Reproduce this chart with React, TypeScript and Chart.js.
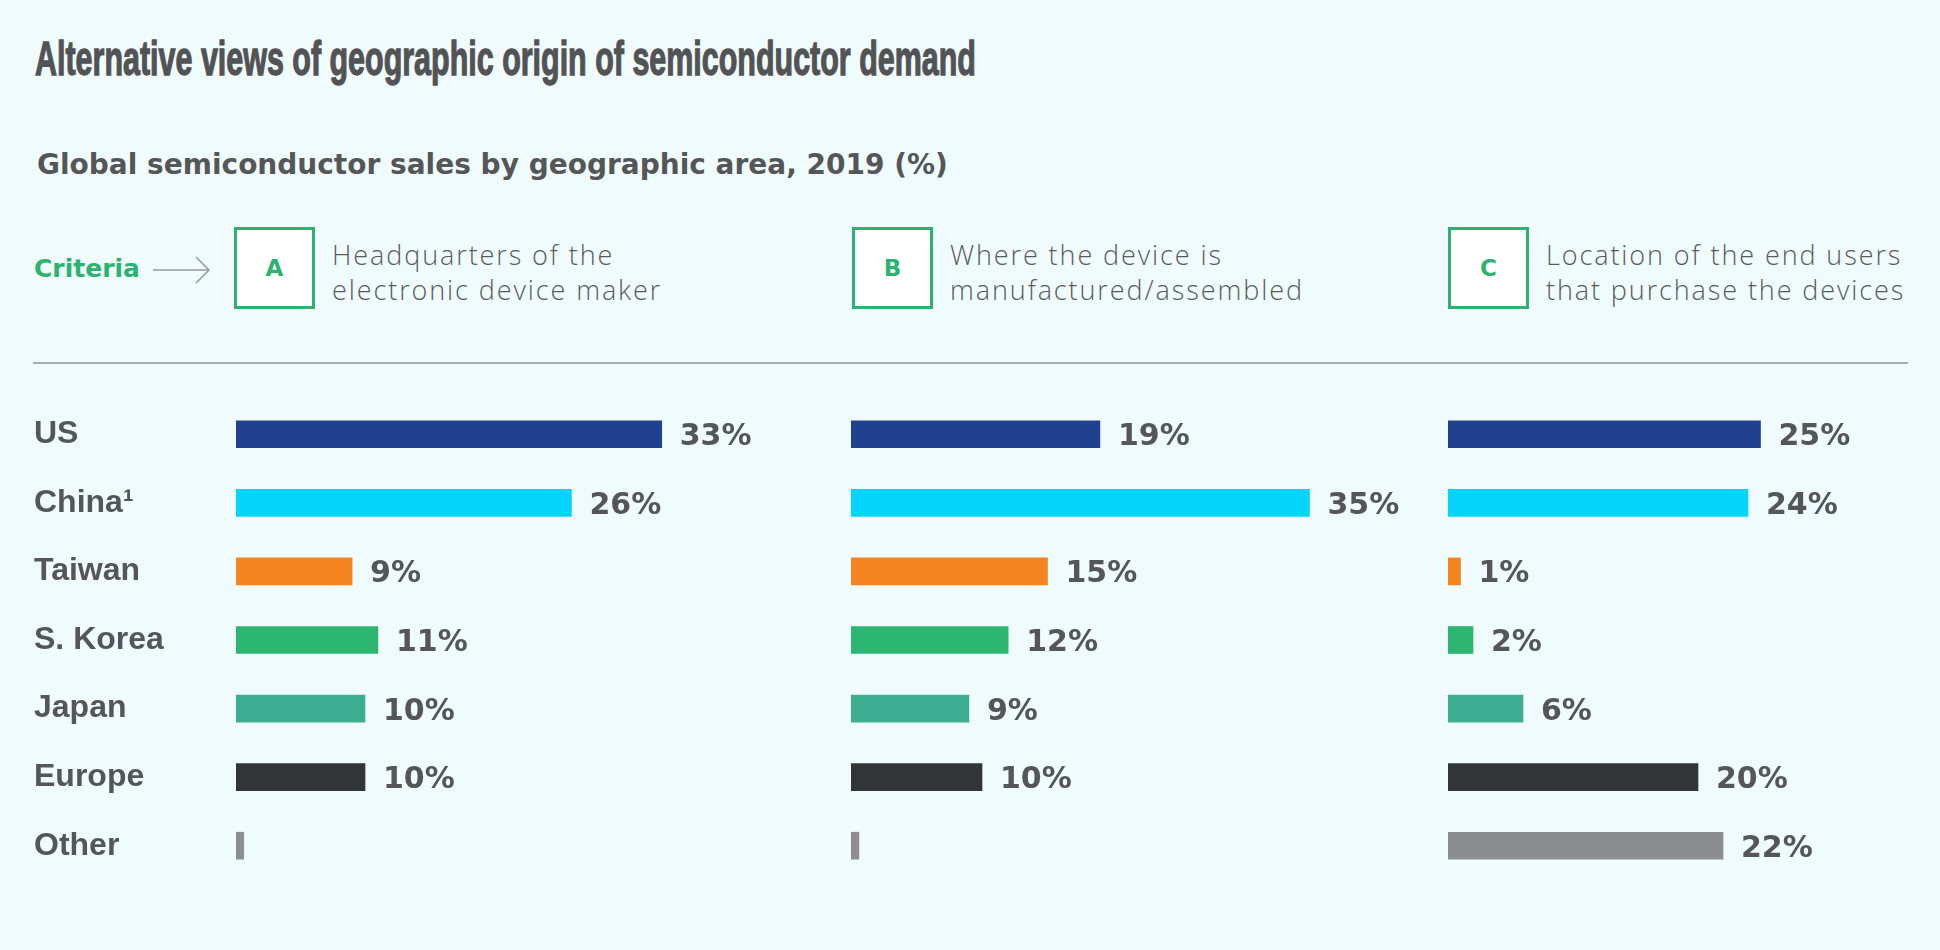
import React, { useEffect, useLayoutEffect, useRef } from "react";
import { Chart, registerables } from "chart.js";

Chart.register(...registerables);

// ---- data ----
const categories = ["US", "China¹", "Taiwan", "S. Korea", "Japan", "Europe", "Other"];
const headquartersShare = [33, 26, 9, 11, 10, 10, 0.6];
const manufacturingShare = [19, 35, 15, 12, 9, 10, 0.6];
const endUserShare = [25, 24, 1, 2, 6, 20, 22];
const barColors = ["#204190", "#05d4fd", "#f4841f", "#2db672", "#3dad92", "#313536", "#8c8d8e"];
const criteriaLetters = ["A", "B", "C"];
const criteriaTexts = [
  ["Headquarters of the", "electronic device maker"],
  ["Where the device is", "manufactured/assembled"],
  ["Location of the end users", "that purchase the devices"],
];
const titleText = "Alternative views of geographic origin of semiconductor demand";
const subtitleText = "Global semiconductor sales by geographic area, 2019 (%)";

const TEXT_GRAY = "#555657";
const GREEN = "#2db36f";
const BG = "#f0fbfe";

const valueLabelPlugin = {
  id: "valueLabels",
  afterDatasetsDraw(chart: any) {
    const ctx = chart.ctx;
    const meta = chart.getDatasetMeta(0);
    const data = chart.data.datasets[0].data as number[];
    ctx.save();
    ctx.font = "bold 30px 'DejaVu Sans', sans-serif";
    ctx.fillStyle = TEXT_GRAY;
    ctx.textAlign = "left";
    ctx.textBaseline = "alphabetic";
    meta.data.forEach((bar: any, i: number) => {
      const v = data[i];
      if (v < 1) return;
      ctx.fillText(`${v}%`, bar.x + 18, bar.y + 11);
    });
    ctx.restore();
  },
};

type PanelProps = {
  values: number[];
  left: number;
  width: number;
  xMax: number;
  plotWidth: number;
  showCategories: boolean;
};

function BarPanel({ values, left, width, xMax, plotWidth, showCategories }: PanelProps) {
  const ref = useRef<HTMLCanvasElement>(null);
  useEffect(() => {
    const padLeft = showCategories ? 34 : 0;
    const axisWidth = showCategories ? 202 : 0;
    const padRight = width - padLeft - axisWidth - plotWidth;
    const chart = new Chart(ref.current as HTMLCanvasElement, {
      type: "bar",
      data: {
        labels: categories,
        datasets: [
          {
            data: values,
            backgroundColor: barColors,
            borderWidth: 0,
            barThickness: 27,
          },
        ],
      },
      options: {
        indexAxis: "y",
        responsive: false,
        maintainAspectRatio: false,
        animation: false,
        layout: { padding: { left: padLeft, right: padRight, top: 0, bottom: 0 } },
        plugins: { legend: { display: false }, tooltip: { enabled: false } },
        scales: {
          x: { display: false, min: 0, max: xMax },
          y: {
            display: showCategories,
            grid: { display: false },
            border: { display: false },
            ticks: {
              crossAlign: "far",
              padding: 0,
              color: TEXT_GRAY,
              font: { family: "'Liberation Sans', Arial, sans-serif", weight: "bold", size: 32 },
            },
            afterFit: (scale: any) => {
              scale.width = axisWidth;
              scale.paddingTop = 0;
              scale.paddingBottom = 0;
            },
          },
        },
      } as any,
      plugins: [valueLabelPlugin],
    });
    return () => chart.destroy();
  }, []);
  return (
    <canvas
      ref={ref}
      width={width}
      height={480}
      style={{ position: "absolute", left, top: 400, width, height: 480 }}
    />
  );
}

export default function App() {
  const titleRef = useRef<HTMLSpanElement>(null);
  useLayoutEffect(() => {
    document.body.style.margin = "0";
    const el = titleRef.current;
    if (el) {
      const w = el.offsetWidth;
      if (w > 0) el.style.transform = `scaleX(${941 / w})`;
    }
  }, []);

  const boxLefts = [234, 852, 1448];
  const textLefts = [332, 950, 1546];

  return (
    <div
      style={{
        position: "fixed",
        left: 0,
        top: 0,
        width: 1940,
        height: 950,
        background: BG,
        overflow: "hidden",
        color: TEXT_GRAY,
      }}
    >
      <span
        ref={titleRef}
        style={{
          position: "absolute",
          left: 35,
          top: 35,
          whiteSpace: "nowrap",
          fontFamily: "'Liberation Sans Narrow', 'Liberation Sans', sans-serif",
          fontWeight: "bold",
          fontSize: 48,
          lineHeight: "48px",
          color: "#525354",
          WebkitTextStroke: "1.3px #525354",
          transformOrigin: "left top",
          display: "inline-block",
        }}
      >
        {titleText}
      </span>

      <div
        style={{
          position: "absolute",
          left: 37,
          top: 151,
          whiteSpace: "nowrap",
          fontFamily: "'DejaVu Sans', sans-serif",
          fontWeight: "bold",
          fontSize: 28,
          lineHeight: "28px",
        }}
      >
        {subtitleText}
      </div>

      <div
        style={{
          position: "absolute",
          left: 34,
          top: 256,
          whiteSpace: "nowrap",
          fontFamily: "'DejaVu Sans', sans-serif",
          fontWeight: "bold",
          fontSize: 25,
          lineHeight: "25px",
          color: GREEN,
        }}
      >
        Criteria
      </div>

      <svg
        width={70}
        height={40}
        style={{ position: "absolute", left: 150, top: 250 }}
      >
        <line x1={3} y1={20} x2={58} y2={20} stroke="#9a9a9a" strokeWidth={1.6} />
        <polyline points="46,7 59,20 46,33" fill="none" stroke="#9a9a9a" strokeWidth={1.6} />
      </svg>

      {criteriaLetters.map((letter, i) => (
        <div
          key={letter}
          style={{
            position: "absolute",
            left: boxLefts[i],
            top: 227,
            width: 81,
            height: 82,
            boxSizing: "border-box",
            border: `3px solid ${GREEN}`,
            background: "#ffffff",
            display: "flex",
            alignItems: "center",
            justifyContent: "center",
            fontFamily: "'DejaVu Sans', sans-serif",
            fontWeight: "bold",
            fontSize: 23,
            color: GREEN,
          }}
        >
          {letter}
        </div>
      ))}

      {criteriaTexts.map((lines, i) => (
        <div
          key={i}
          style={{
            position: "absolute",
            left: textLefts[i],
            top: 237,
            whiteSpace: "nowrap",
            fontFamily: "'Open Sans', Roboto, sans-serif",
            fontWeight: 300,
            fontSize: 27,
            letterSpacing: "1.9px",
            lineHeight: "35px",
            color: "#5a5b5c",
          }}
        >
          {lines.map((l, j) => (
            <div key={j}>{l}</div>
          ))}
        </div>
      ))}

      <div
        style={{
          position: "absolute",
          left: 33,
          top: 362,
          width: 1875,
          height: 2,
          background: "#a9abac",
        }}
      />

      <BarPanel values={headquartersShare} left={0} width={830} xMax={40} plotWidth={516} showCategories={true} />
      <BarPanel values={manufacturingShare} left={851} width={590} xMax={40} plotWidth={524} showCategories={false} />
      <BarPanel values={endUserShare} left={1448} width={480} xMax={36} plotWidth={450} showCategories={false} />
    </div>
  );
}
